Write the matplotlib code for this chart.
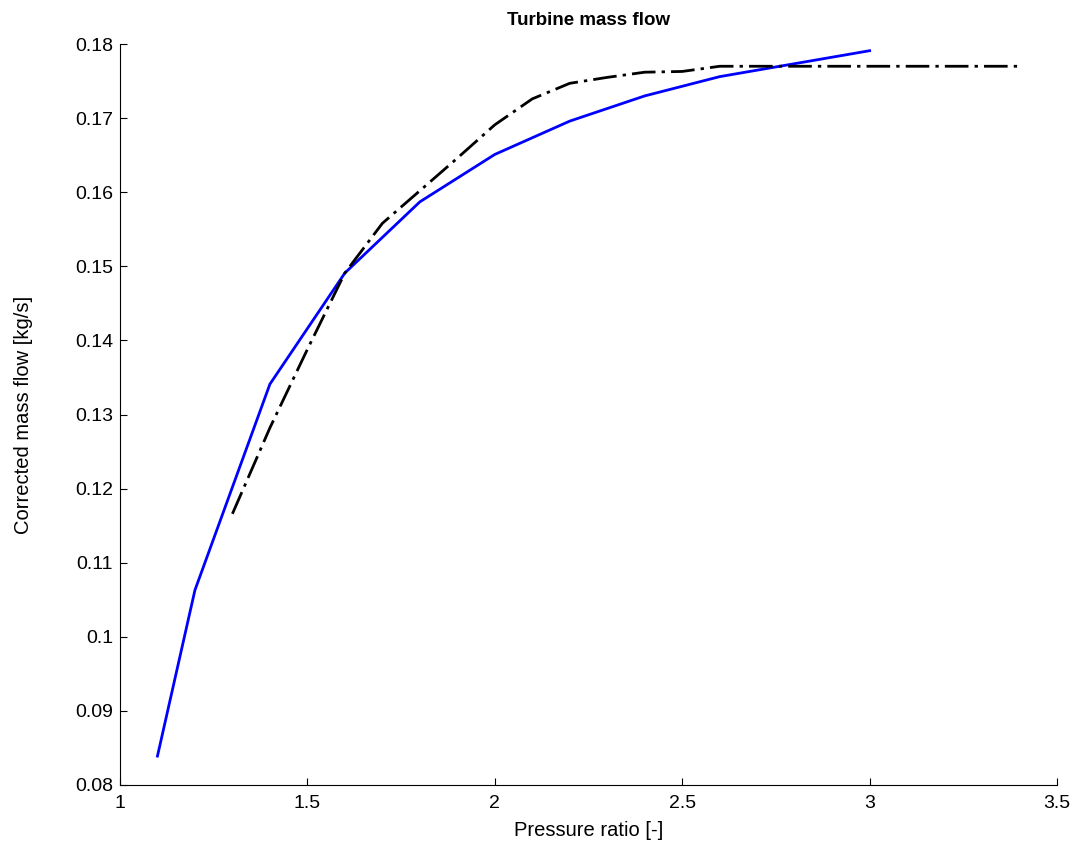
import matplotlib
matplotlib.use("Agg")
import matplotlib.pyplot as plt
from matplotlib.ticker import FormatStrFormatter

plt.rcParams['font.family'] = ['Liberation Sans', 'DejaVu Sans']

# model (blue) and map data (black dash-dot)
pr_model = [1.1, 1.2, 1.4, 1.6, 1.8, 2.0, 2.2, 2.4, 2.6, 3.0]
mf_model = [0.0839, 0.1063, 0.1341, 0.1491, 0.1587, 0.1651, 0.1696, 0.1730, 0.1756, 0.1791]

pr_map = [1.3, 1.4, 1.5, 1.6, 1.7, 1.8, 1.9, 2.0, 2.1, 2.2, 2.3, 2.4, 2.5, 2.6, 3.4]
mf_map = [0.1166, 0.1282, 0.1388, 0.1491, 0.1558, 0.1602, 0.1646, 0.1691, 0.1726,
          0.1747, 0.1755, 0.1762, 0.1763, 0.1770, 0.1770]

x_ticks = [1, 1.5, 2, 2.5, 3, 3.5]
y_ticks = [0.08, 0.09, 0.10, 0.11, 0.12, 0.13, 0.14, 0.15, 0.16, 0.17, 0.18]

fig = plt.figure(figsize=(10.75, 8.42), dpi=100)
ax = fig.add_axes([0.1116, 0.0677, 0.8717, 0.88])

ax.plot(pr_model, mf_model, color='blue', lw=2)
ax.plot(pr_map, mf_map, color='black', lw=2, ls=(0, (8.5, 2.2, 1.2, 2.2)))

ax.set_xlim(1, 3.5)
ax.set_ylim(0.08, 0.18)
ax.set_xticks(x_ticks)
ax.set_yticks(y_ticks)
ax.xaxis.set_major_formatter(FormatStrFormatter('%g'))
ax.yaxis.set_major_formatter(FormatStrFormatter('%g'))

ax.spines['top'].set_visible(False)
ax.spines['right'].set_visible(False)
ax.tick_params(direction='in', length=5, width=0.8, labelsize=14)
ax.tick_params(axis='x', pad=7)
ax.tick_params(axis='y', pad=5)

ax.set_title('Turbine mass flow', fontsize=13.5, fontweight='bold', pad=14)
ax.set_xlabel('Pressure ratio [-]', fontsize=14.5, labelpad=7)
ax.set_ylabel('Corrected mass flow [kg/s]', fontsize=14.5, labelpad=30)

fig.savefig('out.png', dpi=100)
